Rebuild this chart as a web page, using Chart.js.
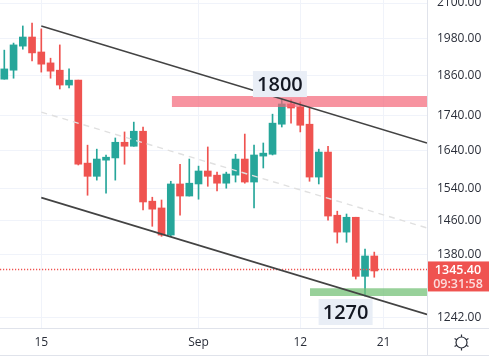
<!DOCTYPE html>
<html>
<head>
<meta charset="utf-8">
<script src="https://cdn.jsdelivr.net/npm/chart.js@4"></script>
<style>
  html, body { margin: 0; padding: 0; background: #fff; }
  canvas { display: block; }
</style>
</head>
<body>
<canvas id="chart" width="489" height="358"></canvas>
<script>
// Candles, one entry per session
const opens = [1849,1877,1954,1984,1935,1900,1877,1831,1846,1607,1572,1615,1621,1664,1653,1695,1508,1491,1425,1552,1521,1552,1586,1575,1554,1575,1618,1557,1626,1631,1715,1774,1765,1715,1570,1637,1473,1432,1468,1330,1376];
const closes = [1881,1958,1984,1932,1896,1874,1831,1846,1604,1572,1618,1623,1664,1653,1695,1506,1488,1425,1552,1521,1554,1586,1572,1554,1578,1618,1557,1629,1634,1718,1774,1762,1712,1570,1637,1471,1432,1468,1330,1376,1342];
const highs = [1941,1964,2021,2031,2011,1915,1958,1881,1846,1656,1645,1629,1676,1693,1721,1707,1518,1511,1559,1604,1618,1599,1651,1583,1583,1631,1687,1656,1662,1744,1789,1786,1780,1762,1645,1653,1483,1476,1468,1392,1385];
const lows = [1849,1852,1944,1906,1871,1852,1819,1822,1602,1523,1562,1528,1562,1604,1653,1486,1446,1422,1422,1473,1521,1513,1546,1534,1541,1557,1554,1491,1594,1629,1707,1718,1693,1559,1552,1461,1406,1408,1324,1287,1328];

const xMin = -0.465;
const xMax = 45.7;
const yMin = 1220;
const yMax = 2110.6;

const xTickPositions = [4, 21, 32, 41];
const xTickLabels = ['15', 'Sep', '12', '21'];
const yTickValues = [2100, 1980, 1860, 1740, 1640, 1540, 1460, 1380, 1242];

// Channel lines: [x, price] at both ends
const channelTop = [[4, 2021], [45.7, 1662]];
const channelMid = [[4, 1750], [45.7, 1442]];
const channelLow = [[4, 1517], [45.7, 1248]];

// Highlighted zones
const resistanceX = [18.1, 45.7];
const resistanceBand = [1797.6, 1765];
const supportX = [33.05, 45.7];
const supportBand = [1304, 1287];

const lastPrice = 1345.4;
const countdown = '09:31:58';
const notes = [
  { x: 29.8, y: 1834, text: '1800' },
  { x: 36.9, y: 1253, text: '1270' },
];

const UP = '#26a69a';
const DOWN = '#ef5350';
const AXIS_LINE = '#e0e3eb';
const GRID = '#f0f3fa';
const TEXT = '#2a2e39';
const FONT = '"Open Sans", sans-serif';

const candleColors = opens.map((o, i) => (closes[i] >= o ? UP : DOWN));
const toPoints = (pairs) => pairs.map(([x, y]) => ({ x, y }));
const hLine = (xs, y) => xs.map((x) => ({ x, y }));

function lineSet(data, extra) {
  return Object.assign({ type: 'line', data, pointRadius: 0, borderWidth: 0, tension: 0, fill: false }, extra);
}

// Axis frame, price tag, text notes and the settings icon
const overlay = {
  id: 'overlay',
  afterDraw(chart) {
    const { ctx, scales, chartArea } = chart;
    const { x: xs, y: ys } = scales;
    ctx.save();

    ctx.strokeStyle = AXIS_LINE;
    ctx.lineWidth = 1;
    ctx.beginPath();
    ctx.moveTo(chartArea.right + 0.5, 0);
    ctx.lineTo(chartArea.right + 0.5, chart.height - 2);
    ctx.moveTo(0, chartArea.bottom + 0.5);
    ctx.lineTo(chart.width, chartArea.bottom + 0.5);
    ctx.moveTo(0, chart.height - 2.5);
    ctx.lineTo(chart.width, chart.height - 2.5);
    ctx.stroke();

    // notes
    notes.forEach((n) => {
      const cx = xs.getPixelForValue(n.x);
      const cy = ys.getPixelForValue(n.y);
      ctx.fillStyle = '#e9eef6';
      ctx.fillRect(cx - 27, cy - 13, 54, 26);
      ctx.fillStyle = '#131722';
      ctx.font = '600 20px ' + FONT;
      ctx.textAlign = 'center';
      ctx.textBaseline = 'middle';
      ctx.fillText(n.text, cx, cy + 1);
    });

    // last price tag
    const py = ys.getPixelForValue(lastPrice);
    ctx.fillStyle = DOWN;
    ctx.fillRect(chartArea.right + 1, py - 8, chart.width - chartArea.right, 30);
    ctx.textAlign = 'center';
    ctx.textBaseline = 'middle';
    ctx.font = '600 12.5px ' + FONT;
    ctx.fillStyle = '#ffffff';
    ctx.fillText(lastPrice.toFixed(2), 458, py + 1);
    ctx.fillStyle = 'rgba(255,255,255,0.8)';
    ctx.fillText(countdown, 458, py + 15);

    // settings icon
    const gx = 461.5;
    const gy = 342.5;
    ctx.strokeStyle = TEXT;
    ctx.lineWidth = 1.2;
    ctx.beginPath();
    ctx.arc(gx, gy, 5.5, 0, Math.PI * 2);
    for (let a = 0; a < 6; a++) {
      const t = Math.PI / 6 + (a * Math.PI) / 3;
      ctx.moveTo(gx + Math.cos(t) * 5.5, gy + Math.sin(t) * 5.5);
      ctx.lineTo(gx + Math.cos(t) * 8, gy + Math.sin(t) * 8);
    }
    ctx.stroke();
    ctx.restore();
  },
};

new Chart(document.getElementById('chart'), {
  type: 'bar',
  plugins: [overlay],
  data: {
    datasets: [
      lineSet(toPoints(channelTop), { borderColor: '#434343', borderWidth: 1.6, order: 1 }),
      lineSet(toPoints(channelMid), { borderColor: '#e0e0e0', borderWidth: 1.4, borderDash: [6, 5], order: 1 }),
      lineSet(toPoints(channelLow), { borderColor: '#434343', borderWidth: 1.6, order: 1 }),
      lineSet(hLine(resistanceX, resistanceBand[0]), { fill: '+1', backgroundColor: 'rgba(244,101,120,0.7)', order: 2 }),
      lineSet(hLine(resistanceX, resistanceBand[1]), { order: 2 }),
      lineSet(hLine(supportX, supportBand[0]), { fill: '+1', backgroundColor: 'rgba(118,193,120,0.75)', order: 2 }),
      lineSet(hLine(supportX, supportBand[1]), { order: 2 }),
      lineSet(hLine([xMin, xMax], lastPrice), { borderColor: '#ef5350', borderWidth: 1.5, borderDash: [1.2, 1.8], order: 3 }),
      {
        data: opens.map((o, i) => ({ x: i, y: [highs[i], lows[i]] })),
        backgroundColor: candleColors,
        barThickness: 1,
        borderWidth: 0,
        grouped: false,
        order: 5,
      },
      {
        data: opens.map((o, i) => ({ x: i, y: [o, closes[i]] })),
        backgroundColor: candleColors,
        barThickness: 7,
        borderWidth: 0,
        grouped: false,
        order: 4,
      },
    ],
  },
  options: {
    responsive: false,
    animation: false,
    layout: { padding: { bottom: 2 } },
    plugins: { legend: { display: false }, tooltip: { enabled: false } },
    scales: {
      x: {
        type: 'linear',
        min: xMin,
        max: xMax,
        offset: false,
        grid: { color: GRID, offset: false, drawTicks: false },
        border: { display: false },
        afterBuildTicks(scale) {
          scale.ticks = xTickPositions.map((value) => ({ value }));
        },
        afterFit(scale) {
          scale.height = 28;
          scale.paddingLeft = 0;
          scale.paddingRight = 0;
        },
        ticks: {
          autoSkip: false,
          maxRotation: 0,
          padding: 7,
          color: TEXT,
          font: { family: FONT, size: 12 },
          callback: (v) => xTickLabels[xTickPositions.indexOf(v)],
        },
      },
      y: {
        type: 'logarithmic',
        position: 'right',
        min: yMin,
        max: yMax,
        grid: { color: GRID, drawTicks: false },
        border: { display: false },
        afterBuildTicks(scale) {
          scale.ticks = yTickValues.map((value) => ({ value }));
        },
        afterFit(scale) {
          scale.width = 62;
          scale.paddingTop = 0;
          scale.paddingBottom = 0;
        },
        ticks: {
          autoSkip: false,
          padding: 10,
          color: TEXT,
          font: { family: FONT, size: 12 },
          callback: (v) => Number(v).toFixed(2),
        },
      },
    },
  },
});
</script>
</body>
</html>
